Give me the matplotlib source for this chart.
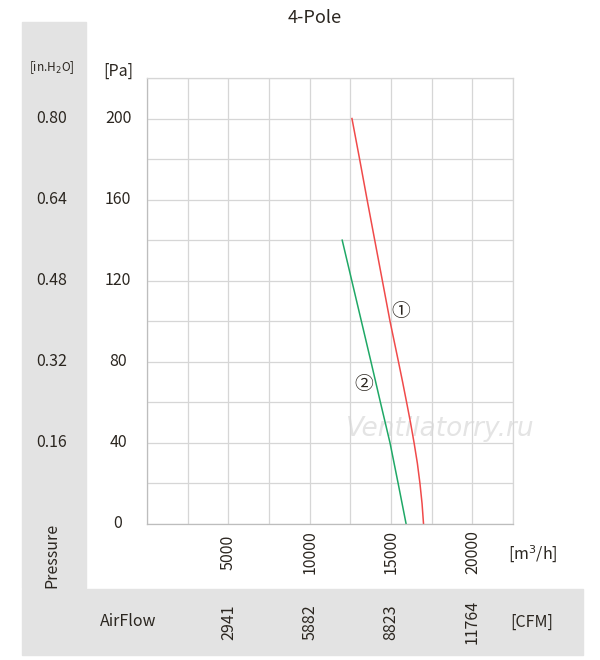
import matplotlib.pyplot as plt
from matplotlib.patches import Rectangle
import matplotlib.transforms as mtransforms

plt.rcParams['font.family'] = ['Noto Sans CJK SC', 'DejaVu Sans']

# curve 1 (red) and curve 2 (green): airflow m3/h vs pressure Pa
red_q = [12600, 13070, 13530, 14000, 14470, 14940, 15460, 15715, 15960, 16200,
         16420, 16620, 16780, 16910, 17000]
red_p = [200, 180, 160, 140, 120, 100, 80, 70, 60, 50, 40, 30, 20, 10, 0]
green_q = [12000, 12590, 13180, 13770, 14350, 14940, 15440, 15930]
green_p = [140, 120, 100, 80, 60, 40, 20, 0]

pa_ticks = [0, 40, 80, 120, 160, 200]
inh2o_labels = ['', '0.16', '0.32', '0.48', '0.64', '0.80']
q_ticks = [5000, 10000, 15000, 20000]
cfm_labels = ['2941', '5882', '8823', '11764']

txt = '#2b2620'
gray_bg = '#e3e3e3'
W, H = 600, 660

def fx(px):
    return px / W

def fy(py):
    return 1 - py / H

fig = plt.figure(figsize=(6, 6.6), dpi=100)

# gray panels
fig.patches.append(Rectangle((fx(22), fy(588)), fx(86) - fx(22), fy(22) - fy(588),
                             transform=fig.transFigure, color=gray_bg, zorder=-5))
fig.patches.append(Rectangle((fx(22), fy(655)), fx(583) - fx(22), fy(589) - fy(655),
                             transform=fig.transFigure, color=gray_bg, zorder=-5))

ax = fig.add_axes([fx(147), fy(524), fx(513) - fx(147), fy(78) - fy(524)])
ax.set_xlim(0, 22500)
ax.set_ylim(0, 220)
ax.set_xticks(range(0, 22501, 2500))
ax.set_yticks(range(0, 221, 20))
ax.grid(True, color='#d6d6d6', linewidth=0.9)
ax.tick_params(length=0, labelbottom=False, labelleft=False)
for s in ax.spines.values():
    s.set_color('#d6d6d6')
    s.set_linewidth(0.9)
ax.spines['left'].set_color('#bdbdbd')
ax.spines['bottom'].set_color('#bdbdbd')

ax.plot(red_q, red_p, color='#f04a4a', linewidth=1.1)
ax.plot(green_q, green_p, color='#1fa866', linewidth=1.1)

ax.text(15600, 105, '①', fontsize=13.5, color=txt, ha='center', va='center')
ax.text(13350, 69, '②', fontsize=13.5, color=txt, ha='center', va='center')
ax.text(18000, 47, 'Ventilatorry.ru', fontsize=19, color='#e4e4e4', style='italic',
        ha='center', va='center', family=['DejaVu Sans'], zorder=0)

# y tick labels, Pa and in.H2O
ty = mtransforms.blended_transform_factory(fig.transFigure, ax.transData)
for p, lab in zip(pa_ticks, inh2o_labels):
    ax.text(fx(118), p, str(p), transform=ty, fontsize=11.5, color=txt, ha='center', va='center')
    if lab:
        ax.text(fx(52), p, lab, transform=ty, fontsize=11.5, color=txt, ha='center', va='center')

# x tick labels, m3/h and CFM
tx = mtransforms.blended_transform_factory(ax.transData, fig.transFigure)
for q, lab in zip(q_ticks, cfm_labels):
    ax.text(q, fy(552), str(q), transform=tx, fontsize=11.5, color=txt, rotation=90,
            ha='center', va='center')
    ax.text(q, fy(622), lab, transform=tx, fontsize=11.5, color=txt, rotation=90,
            ha='center', va='center')

fig.text(fx(315), fy(18), '4-Pole', fontsize=13, color=txt, ha='center', va='center')
fig.text(fx(52), fy(68), '[in.H$_2$O]', fontsize=8.5, color=txt, ha='center', va='center')
fig.text(fx(118), fy(71), '[Pa]', fontsize=11.5, color=txt, ha='center', va='center')
fig.text(fx(52), fy(555), 'Pressure', fontsize=11.5, color=txt, rotation=90, ha='center', va='center')
fig.text(fx(533), fy(554), '[m$^3$/h]', fontsize=11.5, color=txt, ha='center', va='center')
fig.text(fx(128), fy(622), 'AirFlow', fontsize=11.5, color=txt, ha='center', va='center')
fig.text(fx(532), fy(622), '[CFM]', fontsize=11.5, color=txt, ha='center', va='center')

fig.savefig('out.png', dpi=100)
